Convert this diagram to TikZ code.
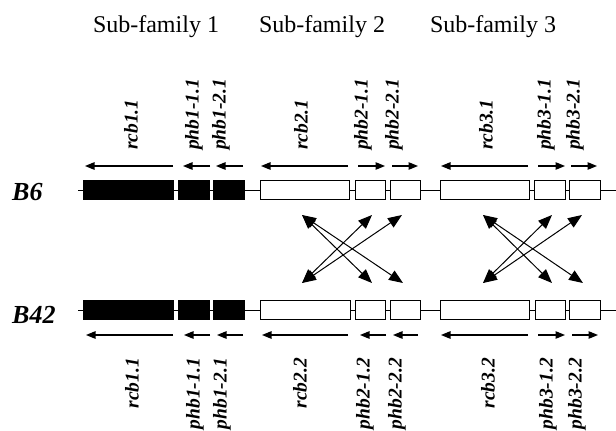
\documentclass[tikz,border=0pt]{standalone}
\usepackage{fontspec}
\setmainfont{Liberation Serif}
\usetikzlibrary{arrows.meta}
\begin{document}
\begin{tikzpicture}[x=1pt,y=-1pt,
  gene/.style={draw, line width=0.9pt, inner sep=0pt, outer sep=0pt, minimum height=19pt},
  blackgene/.style={gene, fill=black},
  whitegene/.style={gene, fill=white},
  chrom/.style={line width=0.8pt},
  orient/.style={line width=1.1pt, -{Triangle[length=9.5pt,width=7.5pt]}},
  homolog/.style={line width=1pt, {Triangle[length=14pt,width=11pt]}-{Triangle[length=14pt,width=11pt]}},
  familytitle/.style={font=\fontsize{24}{28}\selectfont, anchor=base, inner sep=0pt},
  strain/.style={font=\fontsize{26}{30}\selectfont\bfseries\itshape, anchor=base west, inner sep=0pt},
  glabel/.style={font=\fontsize{19.5}{22}\selectfont\bfseries\itshape, rotate=90, inner sep=0pt},
  toplabel/.style={glabel, anchor=west},
  botlabel/.style={glabel, anchor=east},
]
\useasboundingbox (0,0) rectangle (616,431);

% sub-family headings
\node[familytitle] (t1) at (156,32) {Sub-family 1};
\node[familytitle] (t2) at (322,32) {Sub-family 2};
\node[familytitle] (t3) at (493,32) {Sub-family 3};

% strain names
\node[strain] (b6) at (12,200) {B6};
\node[strain] (b42) at (12,323) {B42};

% chromosome backbones
\coordinate (c6a) at (78,190);  \coordinate (c6b) at (616,190);
\coordinate (c42a) at (78,310); \coordinate (c42b) at (616,310);
\draw[chrom] (c6a) -- (c6b);
\draw[chrom] (c42a) -- (c42b);

% B6 genes
\node[blackgene, minimum width=90pt] (r1t) at (128,190) {};
\node[blackgene, minimum width=31pt] (p11t) at (193.5,190) {};
\node[blackgene, minimum width=31pt] (p21t) at (228.5,190) {};
\node[whitegene, minimum width=89pt] (r2t) at (304.5,190) {};
\node[whitegene, minimum width=30pt] (p12t) at (370,190) {};
\node[whitegene, minimum width=30pt] (p22t) at (405,190) {};
\node[whitegene, minimum width=89pt] (r3t) at (484.5,190) {};
\node[whitegene, minimum width=31pt] (p13t) at (549.5,190) {};
\node[whitegene, minimum width=31pt] (p23t) at (584.5,190) {};

% B42 genes
\node[blackgene, minimum width=90pt] (r1b) at (128,309.5) {};
\node[blackgene, minimum width=31pt] (p11b) at (193.5,309.5) {};
\node[blackgene, minimum width=31pt] (p21b) at (228.5,309.5) {};
\node[whitegene, minimum width=90pt] (r2b) at (305,309.5) {};
\node[whitegene, minimum width=30pt] (p12b) at (370,309.5) {};
\node[whitegene, minimum width=30pt] (p22b) at (405,309.5) {};
\node[whitegene, minimum width=89pt] (r3b) at (484.5,309.5) {};
\node[whitegene, minimum width=30pt] (p13b) at (550,309.5) {};
\node[whitegene, minimum width=31pt] (p23b) at (584.5,309.5) {};

% transcription direction, B6
\draw[orient] (173,166) -- (85,166);
\draw[orient] (210,166) -- (183,166);
\draw[orient] (243,166) -- (216,166);
\draw[orient] (348,166) -- (261,166);
\draw[orient] (358,166) -- (385,166);
\draw[orient] (392,166) -- (418,166);
\draw[orient] (528,166) -- (441,166);
\draw[orient] (538,166) -- (565,166);
\draw[orient] (571,166) -- (597,166);

% transcription direction, B42
\draw[orient] (173,335) -- (86,335);
\draw[orient] (210,335) -- (184,335);
\draw[orient] (243,335) -- (217,335);
\draw[orient] (348,335) -- (262,335);
\draw[orient] (386,335) -- (360,335);
\draw[orient] (418,335) -- (393,335);
\draw[orient] (528,335) -- (441,335);
\draw[orient] (538,335) -- (565,335);
\draw[orient] (572,335) -- (598,335);

% gene names, B6
\node[toplabel] (l-r1t) at (131,150) {rcb1.1};
\node[toplabel] (l-p11t) at (194,150) {phb1-1.1};
\node[toplabel] (l-p21t) at (221,150) {phb1-2.1};
\node[toplabel] (l-r2t) at (301,150) {rcb2.1};
\node[toplabel] (l-p12t) at (363,150) {phb2-1.1};
\node[toplabel] (l-p22t) at (394,150) {phb2-2.1};
\node[toplabel] (l-r3t) at (486,150) {rcb3.1};
\node[toplabel] (l-p13t) at (546,150) {phb3-1.1};
\node[toplabel] (l-p23t) at (575,150) {phb3-2.1};

% gene names, B42
\node[botlabel] (l-r1b) at (132,358) {rcb1.1};
\node[botlabel] (l-p11b) at (195,358) {phb1-1.1};
\node[botlabel] (l-p21b) at (222,358) {phb1-2.1};
\node[botlabel] (l-r2b) at (300,358) {rcb2.2};
\node[botlabel] (l-p12b) at (365,358) {phb2-1.2};
\node[botlabel] (l-p22b) at (397,358) {phb2-2.2};
\node[botlabel] (l-r3b) at (488,358) {rcb3.2};
\node[botlabel] (l-p13b) at (548,358) {phb3-1.2};
\node[botlabel] (l-p23b) at (577,358) {phb3-2.2};

% homology links between the two strains
\coordinate (h2r) at (302,215);  \coordinate (h2ra) at (372,215); \coordinate (h2rb) at (402,215);
\coordinate (h2l) at (302,283);  \coordinate (h2la) at (372,283); \coordinate (h2lb) at (403,283);
\draw[homolog] (h2r) -- (h2la);
\draw[homolog] (h2r) -- (h2lb);
\draw[homolog] (h2l) -- (h2ra);
\draw[homolog] (h2l) -- (h2rb);

\coordinate (h3r) at (483,215);  \coordinate (h3ra) at (552,215); \coordinate (h3rb) at (582,215);
\coordinate (h3l) at (483,283);  \coordinate (h3la) at (552,283); \coordinate (h3lb) at (583,283);
\draw[homolog] (h3r) -- (h3la);
\draw[homolog] (h3r) -- (h3lb);
\draw[homolog] (h3l) -- (h3ra);
\draw[homolog] (h3l) -- (h3rb);
\end{tikzpicture}
\end{document}
